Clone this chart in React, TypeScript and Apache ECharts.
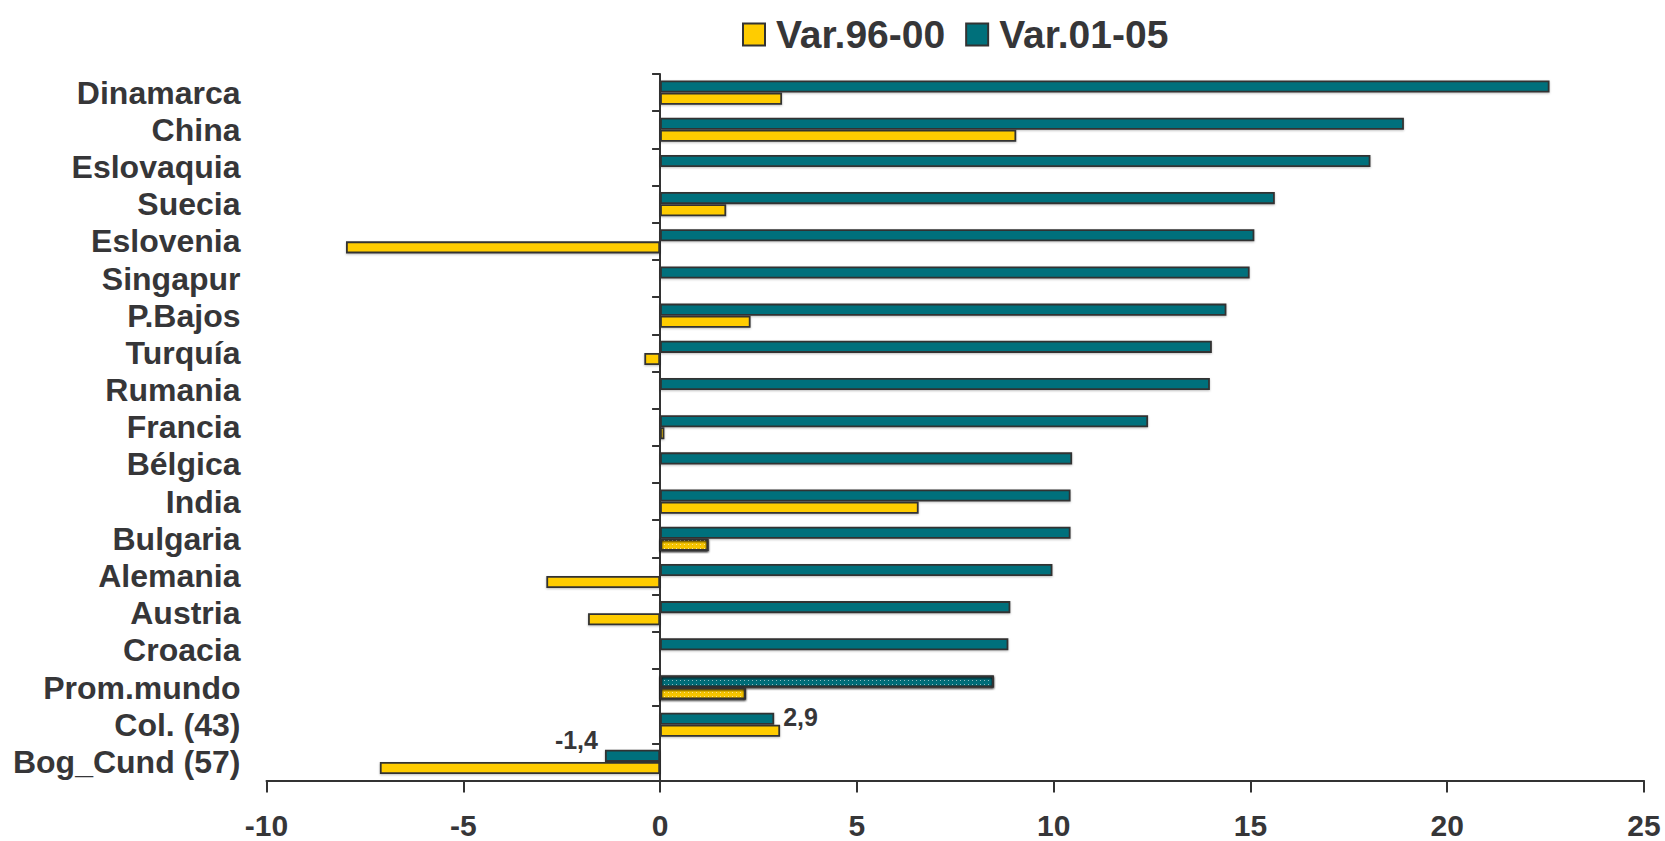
import React, { useEffect, useRef } from "react";
import * as echarts from "echarts";

const categories = [
  "Dinamarca", "China", "Eslovaquia", "Suecia", "Eslovenia", "Singapur", "P.Bajos",
  "Turquía", "Rumania", "Francia", "Bélgica", "India", "Bulgaria", "Alemania",
  "Austria", "Croacia", "Prom.mundo", "Col. (43)", "Bog_Cund (57)",
];
const var0105 = [22.6, 18.9, 18.05, 15.62, 15.1, 14.98, 14.39, 14.02, 13.97, 12.4, 10.47, 10.43, 10.43, 9.97, 8.9, 8.85, 8.48, 2.9, -1.4];
const var9600 = [3.1, 9.05, null, 1.68, -7.98, null, 2.3, -0.4, null, 0.11, null, 6.57, 1.23, -2.89, -1.83, null, 2.18, 3.05, -7.12];
const xTicks = { min: -10, max: 25, interval: 5 };
const patterned0105 = ["Prom.mundo"];
const patterned9600 = ["Bulgaria", "Prom.mundo"];
const shownLabels: Record<string, string> = { "Col. (43)": "2,9", "Bog_Cund (57)": "-1,4" };

const FONT = "'Liberation Sans', Arial, sans-serif";
const TXT = "#363638";
const TEAL = "#00707B";
const YELLOW = "#FFCC00";
const BORDER = "#333333";

const decal = {
  color: "rgba(255,255,255,0.55)",
  symbol: "rect",
  symbolSize: 1,
  dashArrayX: [1, 3],
  dashArrayY: [1, 3],
  rotation: 0,
};

export default function App() {
  const ref = useRef<HTMLDivElement>(null);
  useEffect(() => {
    document.body.style.margin = "0";
    const chart = echarts.init(ref.current!, null, { renderer: "svg" });
    const tealData = var0105.map((v, i) => {
      const name = categories[i];
      const item: any = { value: v };
      if (patterned0105.includes(name)) item.itemStyle = { decal };
      if (shownLabels[name]) {
        item.label = {
          show: true,
          formatter: shownLabels[name],
          position: v >= 0 ? "right" : "left",
          offset: v >= 0 ? [6, -2] : [-4, -16],
          distance: 3,
          fontFamily: FONT,
          fontWeight: "bold",
          fontSize: 25,
          color: TXT,
        };
      }
      return item;
    });
    const yellowData = var9600.map((v, i) => {
      const name = categories[i];
      const item: any = { value: v === null ? "-" : v };
      if (patterned9600.includes(name)) item.itemStyle = { decal };
      return item;
    });
    const barStyle = (color: string) => ({
      color,
      borderColor: BORDER,
      borderWidth: 1.8,
      shadowColor: "rgba(0,0,0,0.25)",
      shadowBlur: 2,
      shadowOffsetY: 1,
    });
    chart.setOption({
      animation: false,
      textStyle: { fontFamily: FONT },
      legend: {
        data: ["Var.96-00", "Var.01-05"],
        left: 737,
        top: 10,
        itemWidth: 22,
        itemHeight: 22,
        itemGap: 20,
        icon: "rect",
        textStyle: {
          fontFamily: FONT,
          fontWeight: "bold",
          fontSize: 39,
          color: TXT,
          padding: [0, 0, 0, 6],
        },
      },
      grid: {
        left: 266.5,
        right: 21,
        top: 74,
        bottom: 60.5,
        containLabel: false,
        outerBoundsMode: "none",
      },
      xAxis: {
        type: "value",
        min: xTicks.min,
        max: xTicks.max,
        interval: xTicks.interval,
        splitLine: { show: false },
        axisLine: { show: true, lineStyle: { color: BORDER, width: 2 } },
        axisTick: { show: true, length: 12, lineStyle: { color: BORDER, width: 2 } },
        axisLabel: {
          margin: 30,
          fontFamily: FONT,
          fontWeight: "bold",
          fontSize: 30,
          color: TXT,
        },
      },
      yAxis: {
        type: "category",
        data: categories,
        inverse: true,
        axisLine: { show: true, onZero: true, lineStyle: { color: BORDER, width: 2 } },
        axisTick: { show: true, length: 8, lineStyle: { color: BORDER, width: 2 } },
        axisLabel: {
          interval: 0,
          margin: 26,
          fontFamily: FONT,
          fontWeight: "bold",
          fontSize: 32,
          color: TXT,
        },
      },
      series: [
        {
          name: "Var.01-05",
          type: "bar",
          data: tealData,
          barGap: "0%",
          barCategoryGap: "35%",
          itemStyle: barStyle(TEAL),
        },
        {
          name: "Var.96-00",
          type: "bar",
          data: yellowData,
          barGap: "0%",
          barCategoryGap: "35%",
          itemStyle: barStyle(YELLOW),
        },
      ],
    });
    return () => chart.dispose();
  }, []);
  return <div ref={ref} style={{ width: "100vw", height: "100vh" }} />;
}
